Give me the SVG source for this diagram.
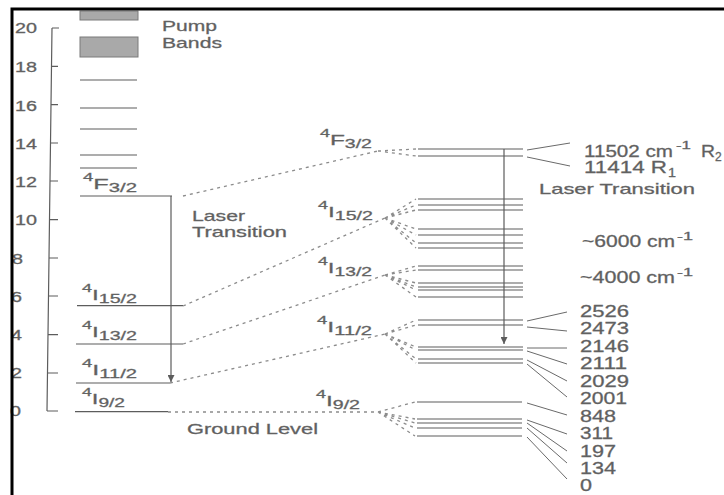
<svg xmlns="http://www.w3.org/2000/svg" width="724" height="495" viewBox="0 0 724 495">
<style>
text { font-family: "Liberation Sans", Arial, sans-serif; fill: #5e5e5e; stroke: #6a6a6a; stroke-width: 0.3; }
.t { font-size: 15px; }
.n { font-size: 16px; }
.ax { font-size: 14px; }
.sup { font-size: 11px; }
.sub { font-size: 12px; }
.lv { stroke: #5c5c5c; stroke-width: 1.2; fill: none; }
.dash { stroke: #8c8c8c; stroke-width: 1.3; stroke-dasharray: 3 4; fill: none; }
.lead { stroke: #6a6a6a; stroke-width: 1; fill: none; }
.arr { stroke: #5c5c5c; stroke-width: 1.2; fill: none; marker-end: url(#ah); }
.band { fill: #a9a9a9; stroke: #7a7a7a; stroke-width: 1; }
</style>
<defs>
<marker id="ah" viewBox="0 0 10 10" refX="10" refY="5" markerWidth="7" markerHeight="7" orient="auto" markerUnits="userSpaceOnUse">
<path d="M0,0 L10,5 L0,10 z" fill="#5c5c5c"/>
</marker>
</defs>
<rect width="724" height="495" fill="#ffffff"/>

<g id="axis">
<path class="lv" d="M52,28 L47,411 M52,28 H59 M51.5,66.3 H58 M51,104.6 H58 M50.5,143 H58 M50,181 H58 M49.5,219.6 H58 M49,258 H58 M48.5,296 H58 M48,334.6 H58 M47.5,373 H58 M47,411 H58"/>
<text class="ax" x="15" y="33" textLength="22" lengthAdjust="spacingAndGlyphs">20</text>
<text class="ax" x="15" y="72" textLength="22" lengthAdjust="spacingAndGlyphs">18</text>
<text class="ax" x="15" y="111" textLength="22" lengthAdjust="spacingAndGlyphs">16</text>
<text class="ax" x="15" y="149" textLength="22" lengthAdjust="spacingAndGlyphs">14</text>
<text class="ax" x="15" y="187" textLength="22" lengthAdjust="spacingAndGlyphs">12</text>
<text class="ax" x="15" y="225" textLength="22" lengthAdjust="spacingAndGlyphs">10</text>
<text class="ax" x="12" y="264" textLength="11" lengthAdjust="spacingAndGlyphs">8</text>
<text class="ax" x="11" y="302" textLength="11" lengthAdjust="spacingAndGlyphs">6</text>
<text class="ax" x="11" y="340" textLength="11" lengthAdjust="spacingAndGlyphs">4</text>
<text class="ax" x="11" y="378" textLength="11" lengthAdjust="spacingAndGlyphs">2</text>
<text class="ax" x="10" y="416" textLength="11" lengthAdjust="spacingAndGlyphs">0</text>
</g>

<g id="pump-bands">
<rect class="band" x="80" y="11" width="58" height="9"/>
<rect class="band" x="80" y="37" width="58" height="20"/>
<text class="t" x="162" y="31" textLength="55" lengthAdjust="spacingAndGlyphs">Pump</text>
<text class="t" x="162" y="48" textLength="60" lengthAdjust="spacingAndGlyphs">Bands</text>
</g>

<g id="upper-levels-left">
<path class="lv" d="M80,80 H137 M80,108 H137 M80,129 H137 M80,155 H137 M80,168 H137"/>
</g>

<g id="F32-left">
<line class="lv" x1="80" y1="196" x2="172" y2="196"/>
<text class="t" x="83" y="189" textLength="54" lengthAdjust="spacingAndGlyphs"><tspan class="sup" dy="-8">4</tspan><tspan dy="8">F</tspan><tspan class="sub" dy="3">3/2</tspan></text>
</g>
<g id="I152-left">
<line class="lv" x1="77" y1="305.7" x2="183" y2="305.7"/>
<text class="t" x="82" y="300" textLength="55" lengthAdjust="spacingAndGlyphs"><tspan class="sup" dy="-8">4</tspan><tspan dy="8">I</tspan><tspan class="sub" dy="3">15/2</tspan></text>
</g>
<g id="I132-left">
<line class="lv" x1="76" y1="344" x2="183" y2="344"/>
<text class="t" x="82" y="337" textLength="55" lengthAdjust="spacingAndGlyphs"><tspan class="sup" dy="-8">4</tspan><tspan dy="8">I</tspan><tspan class="sub" dy="3">13/2</tspan></text>
</g>
<g id="I112-left">
<line class="lv" x1="76" y1="383" x2="170" y2="383"/>
<text class="t" x="82" y="375" textLength="55" lengthAdjust="spacingAndGlyphs"><tspan class="sup" dy="-8">4</tspan><tspan dy="8">I</tspan><tspan class="sub" dy="3">11/2</tspan></text>
</g>
<g id="I92-left">
<line class="lv" x1="75" y1="411.7" x2="168" y2="411.7"/>
<text class="t" x="82" y="404" textLength="43" lengthAdjust="spacingAndGlyphs"><tspan class="sup" dy="-8">4</tspan><tspan dy="8">I</tspan><tspan class="sub" dy="3">9/2</tspan></text>
</g>

<g id="left-labels">
<text class="t" x="192" y="221" textLength="53" lengthAdjust="spacingAndGlyphs">Laser</text>
<text class="t" x="192" y="237" textLength="95" lengthAdjust="spacingAndGlyphs">Transition</text>
<text class="t" x="187" y="434" textLength="131" lengthAdjust="spacingAndGlyphs">Ground Level</text>
</g>

<g id="middle-labels">
<text class="t" x="320" y="145" textLength="52" lengthAdjust="spacingAndGlyphs"><tspan class="sup" dy="-8">4</tspan><tspan dy="8">F</tspan><tspan class="sub" dy="3">3/2</tspan></text>
<text class="t" x="318" y="217" textLength="55" lengthAdjust="spacingAndGlyphs"><tspan class="sup" dy="-8">4</tspan><tspan dy="8">I</tspan><tspan class="sub" dy="3">15/2</tspan></text>
<text class="t" x="318" y="273" textLength="54" lengthAdjust="spacingAndGlyphs"><tspan class="sup" dy="-8">4</tspan><tspan dy="8">I</tspan><tspan class="sub" dy="3">13/2</tspan></text>
<text class="t" x="317" y="332" textLength="55" lengthAdjust="spacingAndGlyphs"><tspan class="sup" dy="-8">4</tspan><tspan dy="8">I</tspan><tspan class="sub" dy="3">11/2</tspan></text>
<text class="t" x="316" y="406" textLength="44" lengthAdjust="spacingAndGlyphs"><tspan class="sup" dy="-8">4</tspan><tspan dy="8">I</tspan><tspan class="sub" dy="3">9/2</tspan></text>
</g>

<g id="F32-right">
<path class="lv" d="M418,149 H523 M418,156 H523"/>
</g>
<g id="I152-right">
<path class="lv" d="M418,199 H523 M418,205 H523 M418,210 H523 M418,229 H523 M418,235 H523 M418,243 H523 M418,248 H523"/>
</g>
<g id="I132-right">
<path class="lv" d="M418,266 H523 M418,270 H523 M418,283 H523 M418,287 H523 M418,290 H523 M418,297 H523"/>
</g>
<g id="I112-right">
<path class="lv" d="M418,320 H523 M418,325 H523 M418,347 H523 M418,350 H523 M418,359 H523 M418,363 H523"/>
</g>
<g id="I92-right">
<path class="lv" d="M417,402 H522 M417,419 H522 M417,423 H522 M417,428 H522 M417,436 H522"/>
</g>

<g id="right-labels">
<g id="label-R2">
<text class="n" x="584" y="157" textLength="89" lengthAdjust="spacingAndGlyphs">11502 cm</text>
<text class="sup" x="676" y="149" textLength="15" lengthAdjust="spacingAndGlyphs">-1</text>
<text class="n" x="701" y="157" textLength="14" lengthAdjust="spacingAndGlyphs">R</text>
<text class="sub" x="715" y="161">2</text>
</g>
<g id="label-R1">
<text class="n" x="584" y="173" textLength="83" lengthAdjust="spacingAndGlyphs">11414 R</text>
<text class="sub" x="668" y="177" textLength="8" lengthAdjust="spacingAndGlyphs">1</text>
</g>
<text class="t" x="539" y="194" textLength="156" lengthAdjust="spacingAndGlyphs">Laser Transition</text>
<g id="label-6000">
<text class="n" x="582" y="247" textLength="93" lengthAdjust="spacingAndGlyphs">~6000 cm</text>
<text class="sup" x="677" y="240" textLength="16" lengthAdjust="spacingAndGlyphs">-1</text>
</g>
<g id="label-4000">
<text class="n" x="580" y="283" textLength="95" lengthAdjust="spacingAndGlyphs">~4000 cm</text>
<text class="sup" x="677" y="276" textLength="16" lengthAdjust="spacingAndGlyphs">-1</text>
</g>
<text class="n" x="580" y="317" textLength="49" lengthAdjust="spacingAndGlyphs">2526</text>
<text class="n" x="580" y="334" textLength="49" lengthAdjust="spacingAndGlyphs">2473</text>
<text class="n" x="580" y="352" textLength="49" lengthAdjust="spacingAndGlyphs">2146</text>
<text class="n" x="580" y="369" textLength="47" lengthAdjust="spacingAndGlyphs">2111</text>
<text class="n" x="580" y="387" textLength="49" lengthAdjust="spacingAndGlyphs">2029</text>
<text class="n" x="580" y="404" textLength="47" lengthAdjust="spacingAndGlyphs">2001</text>
<text class="n" x="580" y="422" textLength="36" lengthAdjust="spacingAndGlyphs">848</text>
<text class="n" x="580" y="439" textLength="33" lengthAdjust="spacingAndGlyphs">311</text>
<text class="n" x="580" y="457" textLength="36" lengthAdjust="spacingAndGlyphs">197</text>
<text class="n" x="580" y="474" textLength="36" lengthAdjust="spacingAndGlyphs">134</text>
<text class="n" x="580" y="491" textLength="12" lengthAdjust="spacingAndGlyphs">0</text>
</g>

<g id="connectors">
<path class="arr" d="M171,196 V382"/>
<path class="arr" d="M504,149 V344"/>
<path class="dash" d="M183,196 L378,151 M378,151 L416,149 M378,151 L416,156"/>
<path class="dash" d="M183,306 L385,218 M385,218 L416,199 M385,218 L416,205 M385,218 L416,210 M385,218 L416,229 M385,218 L416,235 M385,218 L416,243 M385,218 L416,248"/>
<path class="dash" d="M183,344 L385,275 M385,275 L416,266 M385,275 L416,270 M385,275 L416,283 M385,275 L416,287 M385,275 L416,290 M385,275 L416,297"/>
<path class="dash" d="M170,383 L385,334 M385,334 L416,320 M385,334 L416,325 M385,334 L416,347 M385,334 L416,350 M385,334 L416,359 M385,334 L416,363"/>
<path class="dash" d="M168,412 L378,412 M378,412 L415,402 M378,412 L415,419 M378,412 L415,423 M378,412 L415,428 M378,412 L415,436"/>
<path class="lead" d="M527,150 L570,143 M527,157 L570,166"/>
<path class="lead" d="M527,321 L567,312 M527,327 L567,331 M527,348 L567,348 M527,351 L567,364 M527,360 L567,381 M527,364 L567,397 M527,403 L567,415 M527,420 L567,434 M527,423 L567,451 M527,428 L567,463 M527,437 L567,479"/>
</g>

<path id="frame" d="M12,495 V9 H724" fill="none" stroke="#000000" stroke-width="3"/>
</svg>
